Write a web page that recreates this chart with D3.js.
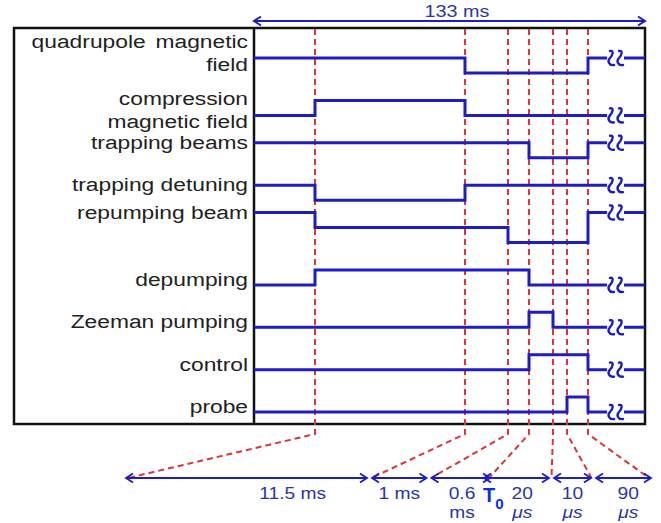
<!DOCTYPE html>
<html lang="en">
  <head>
    <meta charset="UTF-8" />
    <title>Timing sequence</title>
    <script src="https://d3js.org/d3.v7.min.js"></script>
    <style>
      body { margin: 0; background: #fff; }
      text { font-family: Arial, "Liberation Sans", sans-serif; }
    </style>
  </head>
  <body>
    <svg></svg>
    <script>
      // event times in ms, relative to T0 (first and last are the ends of the 133 ms window)
      const eventTimes = [-120, -13.1, -1.6, -0.6, 0, 0.02, 0.03, 0.12, 13];
      const totalLabel = "133 ms";

      const signalLabels = [
        ["quadrupole magnetic", "field"],
        ["compression", "magnetic field"],
        ["trapping beams"],
        ["trapping detuning"],
        ["repumping beam"],
        ["depumping"],
        ["Zeeman pumping"],
        ["control"],
        ["probe"],
      ];

      // [time, level] steps for each channel
      const quadrupoleSteps = [[-120, 1], [-1.6, 0], [0.12, 1]];
      const compressionSteps = [[-120, 0], [-13.1, 1], [-1.6, 0]];
      const trappingSteps = [[-120, 1], [0, 0], [0.12, 1]];
      const detuningSteps = [[-120, 1], [-13.1, 0], [-1.6, 1]];
      const repumpSteps = [[-120, 2], [-13.1, 1], [-0.6, 0], [0.12, 2]];
      const depumpSteps = [[-120, 0], [-13.1, 1], [0, 0]];
      const zeemanSteps = [[-120, 0], [0, 1], [0.02, 0]];
      const controlSteps = [[-120, 0], [0, 1], [0.12, 0]];
      const probeSteps = [[-120, 0], [0.03, 1], [0.12, 0]];
      const signalSteps = [
        quadrupoleSteps, compressionSteps, trappingSteps, detuningSteps,
        repumpSteps, depumpSteps, zeemanSteps, controlSteps, probeSteps,
      ];

      // durations shown along the expanded axis at the bottom
      const spanTop = ["11.5 ms", "1 ms", "0.6", "20", "10", "90"];
      const spanBottom = ["", "", "ms", "μs", "μs", "μs"];

      const width = 661, height = 523;
      const blue = "#1c1cc8", red = "#e0323a", textBlue = "#2a36a8";
      const tStart = eventTimes[0], tEnd = eventTimes[eventTimes.length - 1];

      const svg = d3.select("svg").attr("width", width).attr("height", height);

      // broken time axis: piecewise linear
      const x = d3.scaleLinear()
        .domain(eventTimes)
        .range([254, 315, 465, 508, 529, 553, 567, 588, 645]);
      // expanded axis under the box
      const zoomTimes = eventTimes.slice(1, 8);
      const xz = d3.scaleLinear()
        .domain(zoomTimes)
        .range([126, 369.5, 429, 487, 551.5, 593.5, 651]);

      const row = d3.scalePoint().domain(d3.range(signalSteps.length)).range([73, 412]);
      const lev = d3.scaleLinear().domain([0, 1]).range([0, -15]);

      // frame
      svg.append("rect")
        .attr("x", 14).attr("y", 28)
        .attr("width", x(tEnd) - 14).attr("height", 396)
        .attr("fill", "none").attr("stroke", "#111").attr("stroke-width", 2.5);
      svg.append("line")
        .attr("x1", x(tStart)).attr("x2", x(tStart))
        .attr("y1", 28).attr("y2", 424)
        .attr("stroke", "#111").attr("stroke-width", 2.5);

      function arrowHead(g, tipX, y, dir, color, w) {
        g.append("path")
          .attr("d", "M" + (tipX - dir * 7) + "," + (y - 4.5) + "L" + tipX + "," + y + "L" + (tipX - dir * 7) + "," + (y + 4.5))
          .attr("fill", "none").attr("stroke", color).attr("stroke-width", w);
      }

      // 133 ms arrow
      const topArrow = svg.append("g");
      topArrow.append("line")
        .attr("x1", x(tStart)).attr("x2", x(tEnd)).attr("y1", 21).attr("y2", 21)
        .attr("stroke", blue).attr("stroke-width", 2);
      arrowHead(topArrow, x(tStart), 21, -1, blue, 2);
      arrowHead(topArrow, x(tEnd), 21, 1, blue, 2);
      topArrow.append("text")
        .attr("transform", "translate(" + 457 + ",17) scale(1.2,1)")
        .attr("text-anchor", "middle").attr("font-size", 16.5)
        .attr("fill", textBlue).text(totalLabel);

      // red dashed markers + slanted guides to the expanded axis
      const yArrow = 478;
      const marks = svg.append("g").attr("fill", "none")
        .attr("stroke", red).attr("stroke-width", 2).attr("stroke-dasharray", "6,4");
      zoomTimes.forEach((t) => {
        const gap = t === 0.03 || t === 0.12 ? -2 : t === 0.02 ? 0 : 2;
        marks.append("path")
          .attr("d", "M" + x(t) + ",29L" + x(t) + ",434L" + (xz(t) + gap) + "," + yArrow);
      });

      // signals
      const line = d3.line()
        .x((d) => x(d[0]))
        .y((d) => d[2] + lev(d[1]))
        .curve(d3.curveStepAfter);
      const brk0 = x(tEnd) - 38, brk1 = x(tEnd) - 21;

      signalSteps.forEach((steps, i) => {
        const y0 = row(i);
        const last = steps[steps.length - 1][1];
        const pts = steps.map((s) => [s[0], s[1], y0]).concat([[tEnd, last, y0]]);
        svg.append("path")
          .attr("d", line(pts))
          .attr("fill", "none").attr("stroke", blue).attr("stroke-width", 3);

        // axis break: gap with two wavy strokes
        const yEnd = y0 + lev(last);
        svg.append("rect")
          .attr("x", brk0).attr("y", yEnd - 4)
          .attr("width", brk1 - brk0).attr("height", 8).attr("fill", "#fff");
        [brk0 + 4, brk0 + 13].forEach((cx) => {
          svg.append("path")
            .attr("d", "M" + (cx - 1) + "," + (yEnd - 7) +
              "C" + (cx + 3) + "," + (yEnd - 8) + " " + (cx + 2) + "," + (yEnd - 3) + " " + (cx - 1) + "," + yEnd +
              "C" + (cx - 4) + "," + (yEnd + 3) + " " + (cx - 2) + "," + (yEnd + 8) + " " + (cx + 3) + "," + (yEnd + 7))
            .attr("fill", "none").attr("stroke", blue).attr("stroke-width", 2.4)
            .attr("stroke-linecap", "round");
        });

        // label
        const lines = signalLabels[i];
        const startsHigh = steps[0][1] > 0;
        const anchor = y0 + lev(steps[0][1]) + (startsHigh && lines.length === 1 ? 6 : 1);
        lines.forEach((txt, k) => {
          const by = lines.length === 1 ? anchor : anchor + (k === 0 ? -11.5 : 11.5);
          svg.append("text")
            .attr("transform", "translate(248," + by + ") scale(1.2,1)")
            .attr("text-anchor", "end").attr("font-size", 19)
            .attr("word-spacing", txt === "quadrupole magnetic" ? 3 : 0)
            .attr("fill", "#222").text(txt);
        });
      });

      // expanded axis arrows
      const bottom = svg.append("g");
      const labelNudge = [45, 0, 4, 3, 0, 6];
      for (let k = 0; k < zoomTimes.length - 1; k++) {
        const a = zoomTimes[k], b = zoomTimes[k + 1];
        const ga = a === 0 ? -3 : 2.5, gb = b === 0 ? -3 : 2.5;
        const x1 = xz(a) + (k === 0 ? 0 : ga), x2 = xz(b) - (k === zoomTimes.length - 2 ? 0 : gb);
        bottom.append("line")
          .attr("x1", x1).attr("x2", x2).attr("y1", yArrow).attr("y2", yArrow)
          .attr("stroke", blue).attr("stroke-width", 1.8);
        arrowHead(bottom, x1, yArrow, -1, blue, 1.8);
        arrowHead(bottom, x2, yArrow, 1, blue, 1.8);

        const cx = (xz(a) + xz(b)) / 2 + labelNudge[k];
        bottom.append("text")
          .attr("transform", "translate(" + cx + ",499) scale(1.2,1)")
          .attr("text-anchor", "middle").attr("font-size", 16)
          .attr("fill", textBlue).text(spanTop[k]);
        if (spanBottom[k]) {
          bottom.append("text")
            .attr("transform", "translate(" + cx + ",518) scale(1.2,1)")
            .attr("text-anchor", "middle").attr("font-size", 16)
            .attr("font-style", spanBottom[k] === "ms" ? "normal" : "italic")
            .attr("fill", textBlue).text(spanBottom[k]);
        }
      }

      // T0 marker
      const t0 = bottom.append("text")
        .attr("transform", "translate(" + (xz(0) - 4) + ",502)")
        .attr("font-size", 20).attr("font-weight", "bold").attr("fill", "#0a2cf0");
      t0.append("tspan").text("T");
      t0.append("tspan").attr("dy", 7).attr("font-size", 15).text("0");
    </script>
  </body>
</html>
